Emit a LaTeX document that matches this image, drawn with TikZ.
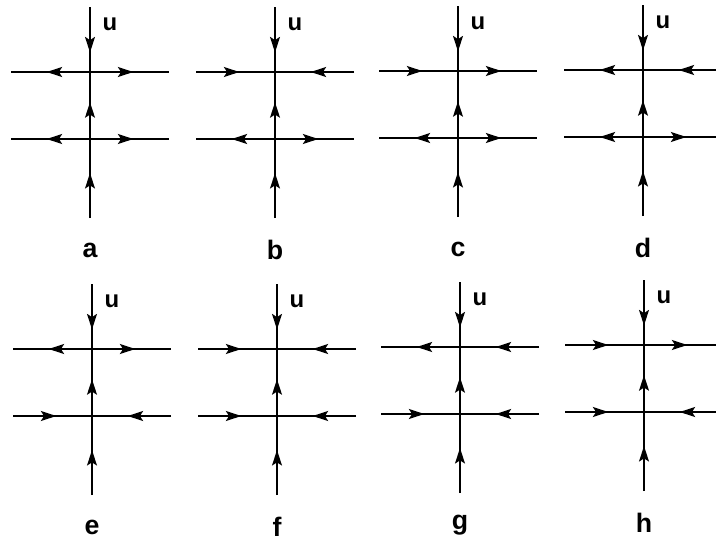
\documentclass[tikz,border=0pt]{standalone}
\usepackage{fontspec}
\setmainfont{Liberation Sans}
\usetikzlibrary{arrows.meta,decorations.markings}

\tikzset{
  flow/.style={line width=1.6pt},
  midarrow/.style={postaction={decorate},decoration={markings,
      mark=at position #1 with {\arrow{Stealth[length=11pt,width=7pt,inset=2.2pt]}}}},
  flabel/.style={font=\fontsize{19}{19}\selectfont\bfseries},
  ulabel/.style={font=\fontsize{17}{17}\selectfont\bfseries}
}
% one horizontal arm: left point, right point, sign of the flow (+1 = to the right)
\newcommand{\harm}[3]{\ifnum#3>0 \draw[flow,midarrow=0.55] (#1) -- (#2);\else \draw[flow,midarrow=0.55] (#2) -- (#1);\fi}

\begin{document}
\begin{tikzpicture}[x=0.025cm,y=-0.025cm]
    \useasboundingbox (0,0) rectangle (716,546);
    \foreach \p/\x/\y/\dA/\dB/\dC/\dD in {
        a/90/72/-1/1/-1/1, b/275/72/1/-1/-1/1, c/458/71/1/1/-1/1, d/643/70/-1/-1/-1/1,
        e/92/349/-1/1/1/-1, f/277/349/1/-1/1/-1, g/460/347/-1/-1/1/-1, h/644/345/1/1/1/-1} {
        % crossings and free ends
        \coordinate (\p1) at (\x,\y);
        \coordinate (\p2) at (\x,\y+67);
        \coordinate (\p top) at (\x,\y-65);
        \coordinate (\p bot) at (\x,\y+146);
        \coordinate (\p TL) at (\x-79,\y);
        \coordinate (\p TR) at (\x+79,\y);
        \coordinate (\p BL) at (\x-79,\y+67);
        \coordinate (\p BR) at (\x+79,\y+67);
        % vertical line
        \draw[flow,midarrow=0.7] (\p top) -- (\p1);
        \draw[flow,midarrow=0.55] (\p2) -- (\p1);
        \draw[flow,midarrow=0.57] (\p bot) -- (\p2);
        % horizontal lines
        \harm{\p TL}{\p1}{\dA}
        \harm{\p1}{\p TR}{\dB}
        \harm{\p BL}{\p2}{\dC}
        \harm{\p2}{\p BR}{\dD}
        \node[ulabel] (\p u) at (\x+20,\y-48) {u};
        \node[flabel] (\p name) at (\x,\y+178) {\p};
    }
\end{tikzpicture}
\end{document}
